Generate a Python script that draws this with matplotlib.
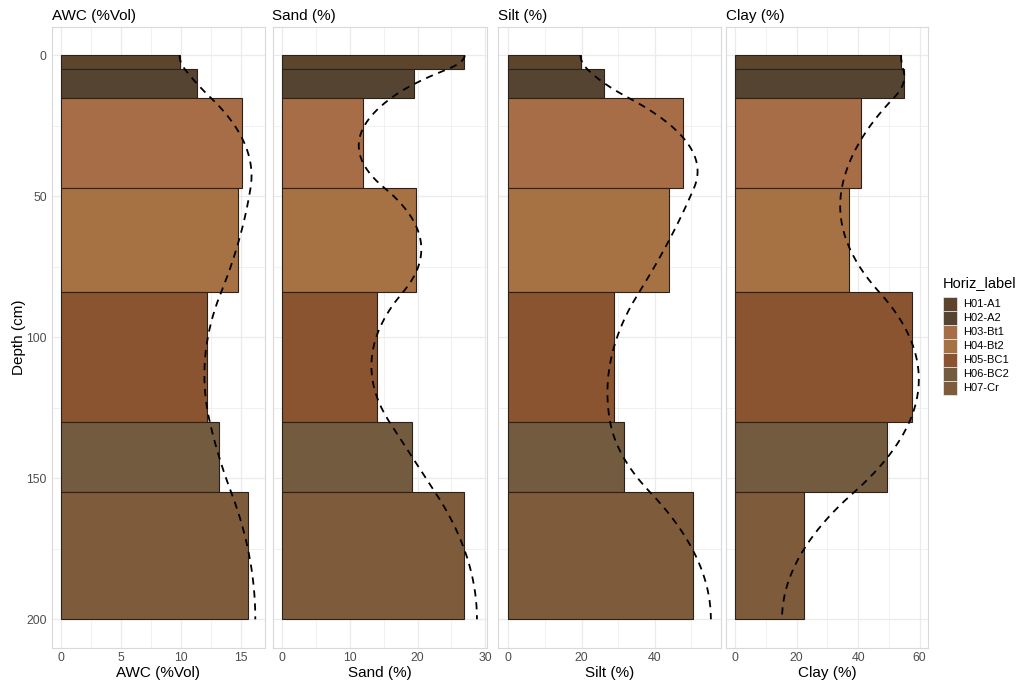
import numpy as np
import matplotlib
matplotlib.use("Agg")
import matplotlib.pyplot as plt
from matplotlib.patches import Rectangle

plt.rcParams["font.family"] = ["Liberation Sans", "DejaVu Sans"]

# Soil profile horizons
horizons = ["H01-A1", "H02-A2", "H03-Bt1", "H04-Bt2", "H05-BC1", "H06-BC2", "H07-Cr"]
tops = [0, 5, 15, 47, 84, 130, 155]
bottoms = [5, 15, 47, 84, 130, 155, 200]
colors = ["#5c452c", "#554431", "#a76d47", "#a67244", "#8a5430", "#735b40", "#7e5b3b"]

# Horizon properties
awc = [9.9, 11.3, 15.1, 14.8, 12.2, 13.2, 15.6]
sand = [26.8, 19.5, 12.0, 19.7, 14.0, 19.2, 26.9]
silt = [19.8, 26.1, 47.7, 43.8, 28.9, 31.6, 50.3]
clay = [54.0, 55.0, 40.8, 37.0, 57.4, 49.4, 22.3]

titles = ["AWC (%Vol)", "Sand (%)", "Silt (%)", "Clay (%)"]
series = [awc, sand, silt, clay]
major_ticks = [[0, 5, 10, 15], [0, 10, 20, 30], [0, 20, 40], [0, 20, 40, 60]]
minor_ticks = [[2.5, 7.5, 12.5], [5, 15, 25], [10, 30, 50], [10, 30, 50]]
depth_ticks = [0, 50, 100, 150, 200]


def equal_area_spline(top, bottom, values, lam=0.1, step=0.5):
    """Mass-preserving (equal-area) spline of horizon values over depth."""
    z = np.arange(top[0], bottom[-1] + step / 2, step)
    m, n = len(z), len(values)
    A = np.zeros((n, m))
    for i, (t, b) in enumerate(zip(top, bottom)):
        idx = np.where((z >= t - 1e-9) & (z <= b + 1e-9))[0]
        w = np.full(len(idx), step)
        w[0] = w[-1] = step / 2
        A[i, idx] = w / (b - t)
    D = np.diff(np.eye(m), axis=0)
    M = A.T @ A + n * lam / step * (D.T @ D)
    f = np.linalg.solve(M, A.T @ np.asarray(values, float))
    return z, f


W, H = 1017, 683
fig = plt.figure(figsize=(W / 100, H / 100), dpi=100)

panel_x = [(51.7, 265.0), (272.5, 486.7), (498.3, 721.0), (726.0, 928.0)]
py0, py1 = 27.1, 647.5

grid_c = "#ebebeb"
for k, (vals, title) in enumerate(zip(series, titles)):
    x0, x1 = panel_x[k]
    ax = fig.add_axes([x0 / W, 1 - py1 / H, (x1 - x0) / W, (py1 - py0) / H])
    zz, ff = equal_area_spline(tops, bottoms, vals)
    hi = max(max(vals), ff.max())
    pad = 0.05 * hi
    ax.set_xlim(-pad, hi + pad)
    ax.set_ylim(210, -10)

    for t, b, v, c in zip(tops, bottoms, vals, colors):
        ax.add_patch(Rectangle((0, t), v, b - t, facecolor=c, edgecolor="#2b2118",
                               linewidth=0.8, zorder=2))
    ax.plot(ff, zz, color="black", linewidth=1.3, dashes=(4, 3.2), zorder=3)

    ax.set_xticks(major_ticks[k])
    ax.set_xticks(minor_ticks[k], minor=True)
    ax.set_yticks(depth_ticks)
    ax.set_yticks([25, 75, 125, 175], minor=True)
    ax.grid(True, which="major", color=grid_c, linewidth=0.9, zorder=0)
    ax.grid(True, which="minor", color=grid_c, linewidth=0.5, zorder=0)
    ax.set_axisbelow(True)
    ax.tick_params(which="both", length=0, labelsize=8.8, labelcolor="#4d4d4d", pad=3.5)
    if k > 0:
        ax.set_yticklabels([])
    else:
        ax.set_ylabel("Depth (cm)", fontsize=11, labelpad=0)
    for s in ax.spines.values():
        s.set_color("#d9d9d9")
        s.set_linewidth(0.8)
    ax.set_xlabel(title, fontsize=11, labelpad=1.5)
    ax.set_title(title, fontsize=11, loc="left", pad=5)

# Legend
fig.text(942.7 / W, 1 - 283 / H, "Horiz_label", fontsize=10.5, va="center", ha="left")
key_h = 14.1
for i, (lab, c) in enumerate(zip(horizons, colors)):
    ytop = 296.5 + i * key_h
    fig.patches.append(Rectangle((942.7 / W, 1 - (ytop + key_h) / H), 14 / W, key_h / H,
                                 transform=fig.transFigure, facecolor=c,
                                 edgecolor="white", linewidth=0.4))
    fig.text(963 / W, 1 - (ytop + key_h / 2) / H, lab, fontsize=8.0, va="center", ha="left")

fig.savefig("out.png", dpi=100, facecolor="white")
